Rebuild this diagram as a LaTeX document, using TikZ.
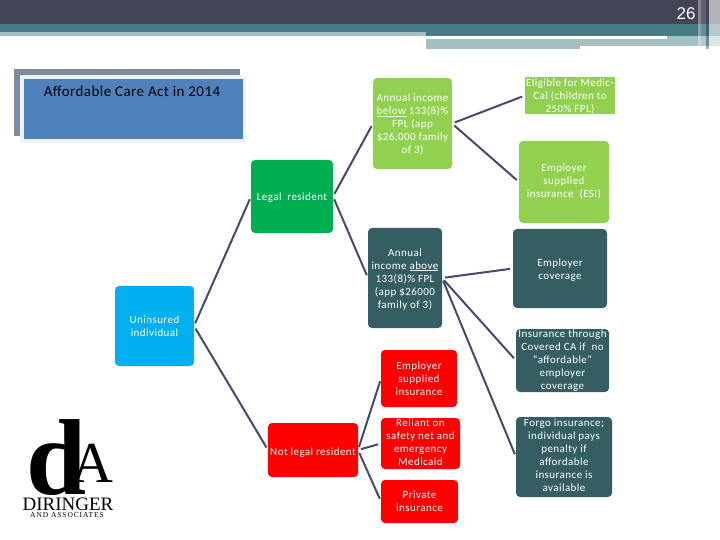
\documentclass[tikz,border=0pt]{standalone}
\usepackage{fontspec}
\setmainfont{Carlito}
\newfontfamily\hdfont{Liberation Sans}
\newfontfamily\logofont{Liberation Serif}
\newfontfamily\logosubfont[LetterSpace=12]{Liberation Serif}
\definecolor{hdark}{HTML}{434456}
\definecolor{hteal}{HTML}{457C83}
\definecolor{hlight}{HTML}{A3BFC2}
\definecolor{cgreen}{HTML}{92D050}
\definecolor{lgreen}{HTML}{00B050}
\definecolor{cteal}{HTML}{355E63}
\definecolor{cblue}{HTML}{00B0F0}
\definecolor{cred}{HTML}{FF0000}
\definecolor{tblue}{HTML}{4F81BD}
\definecolor{tshadow}{HTML}{7E8AA0}
\definecolor{tedge}{HTML}{EDF3F8}
\definecolor{wire}{HTML}{454A70}
\newfontfamily\boxfont[LetterSpace=4]{Carlito}
\tikzset{
  x=1pt,y=-1pt,
  flow/.style={rounded corners=4pt,inner sep=0pt,outer sep=0pt,text=white,align=center,font=\boxfont\fontsize{11}{13}\selectfont},
  wireline/.style={draw=wire,line width=2pt,line join=round,shorten >=3pt,shorten <=3pt},
}
\newcommand{\bx}[6]{\node[flow,fill=#5,minimum width=#3pt,minimum height=#4pt] (#1) at (#2) {#6};}
% taller first line moves a block of text down, deeper last line moves it up
\newcommand{\pushdn}[1]{\rule{0pt}{#1pt}}
\newcommand{\pushup}[1]{\rule[-#1pt]{0pt}{#1pt}}
\begin{document}
\begin{tikzpicture}
\useasboundingbox (0,0) rectangle (720,540);
\fill[white] (0,0) rectangle (720,540);
% header
\fill[hdark] (0,0) rectangle (720,24);
\fill[hteal] (0,24) rectangle (720,32);
\fill[hlight] (0,32) rectangle (426,36);
\fill[hteal] (426,32) rectangle (720,36);
\fill[hlight] (426,39) rectangle (580,49);
\fill[hlight] (580,39) rectangle (667,46);
\fill[hlight] (667,36) rectangle (720,46);
\fill[white,opacity=.35] (698,0) rectangle (701,46);
\fill[white,opacity=.15] (701,0) rectangle (706,46);
\fill[hdark,opacity=.45] (706,0) rectangle (709,49);
\fill[white,opacity=.6] (709,0) rectangle (720,46);
\node[text=white,font=\hdfont\fontsize{17}{19}\selectfont] (pageno) at (686,14) {26};
% title
\fill[tshadow] (14,69) rectangle (240,136);
\fill[tedge] (20,75) rectangle (246,143);
\node[fill=tblue,minimum width=219pt,minimum height=60pt,inner sep=0pt,anchor=north west] (title) at (24,79) {};
\node[font=\fontsize{15}{17}\selectfont,text=black] (titletext) at (132,91) {\addfontfeature{LetterSpace=3}Affordable Care Act in 2014};
% boxes
\bx{unins}{154.5,326}{79}{80}{cblue}{Uninsured\\individual}
\bx{legal}{292,196.5}{82}{73}{lgreen}{\pushdn{10}Legal~ resident}
\bx{notlegal}{313,450}{90}{54}{cred}{\pushdn{12}Not legal resident}
\bx{below}{412.5,123.5}{79}{91}{cgreen}{\pushdn{10}Annual income\\\underline{below} 133(8)\%\\FPL (app\\\$26,000 family\\of 3)}
\bx{above}{405,278}{74}{100}{cteal}{\pushdn{10}Annual\\income \underline{above}\\133(8)\% FPL\\(app \$26000\\family of 3)}
\bx{empins}{419,378.5}{76}{57}{cred}{Employer\\supplied\\insurance}
\bx{reliant}{420.5,443.5}{79}{51}{cred}{Reliant on\\safety net and\\emergency\\Medicaid\pushup{3.6}}
\bx{private}{419.5,501.5}{77}{43}{cred}{Private\\insurance}
\bx{esi}{564,182}{90}{82}{cgreen}{Employer\\supplied\\insurance~ (ESI)\pushup{3.4}}
\node[flow,fill=cgreen,rounded corners=0pt,minimum width=90pt,minimum height=35pt] (medi) at (570,95.5) {\pushdn{10}Eligible for Medic-\\Cal (children to\\250\% FPL)};
\bx{cov}{560,268.5}{94}{79}{cteal}{\pushdn{11}Employer\\coverage}
\bx{thru}{562.5,360.5}{93}{63}{cteal}{Insurance through\\Covered CA if~ no\\“affordable”\\employer\\coverage}
\bx{forgo}{564,457}{96}{80}{cteal}{Forgo insurance;\\individual pays\\penalty if\\affordable\\insurance is\\available\pushup{3.6}}
% connectors
\draw[wireline] (unins.east) -- (legal.west);
\draw[wireline] (unins.east) -- (notlegal.west);
\draw[wireline] (legal.east) -- (below.west);
\draw[wireline] (legal.east) -- (above.west);
\draw[wireline] (below.east) -- (medi.west);
\draw[wireline] (below.east) -- (esi.west);
\draw[wireline] (above.east) -- (cov.west);
\draw[wireline] (above.east) -- (thru.west);
\draw[wireline] (above.east) -- (forgo.west);
\draw[wireline] (notlegal.east) -- (empins.west);
\draw[wireline] (notlegal.east) -- (reliant.west);
\draw[wireline] (notlegal.east) -- (private.west);
% logo
\begin{scope}
\clip (0,400) rectangle (130,516);
\node[font=\logofont\bfseries\fontsize{108}{108}\selectfont,text=black,inner sep=0pt] (logod) at (57,458) {d};
\node[font=\logofont\fontsize{58}{58}\selectfont,text=black,inner sep=0pt] (logoa) at (92,463) {A};
\node[font=\logofont\fontsize{19}{19}\selectfont,text=black,inner sep=0pt] (logoname) at (68,504) {DIRINGER};
\node[font=\logosubfont\fontsize{7.5}{8}\selectfont,text=black,inner sep=0pt] (logosub) at (67,515) {AND ASSOCIATES};
\end{scope}
\end{tikzpicture}
\end{document}
